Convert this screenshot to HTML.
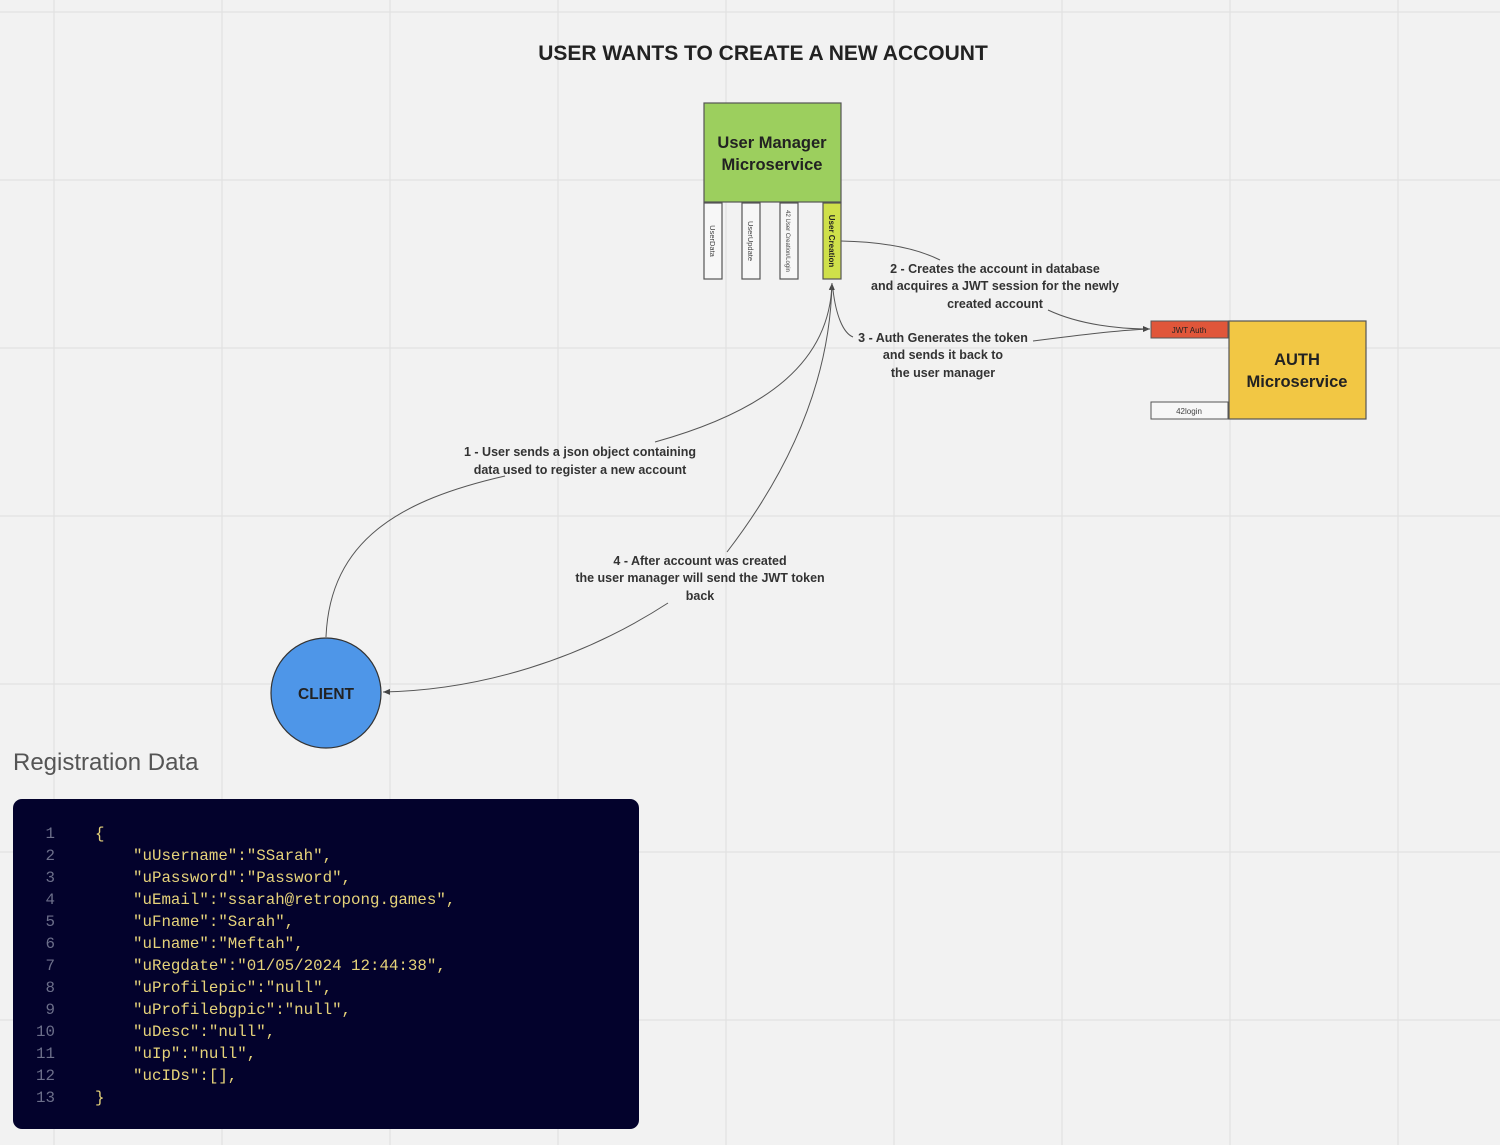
<!DOCTYPE html>
<html><head><meta charset="utf-8"><style>
html,body{margin:0;padding:0;background:#f2f2f2}
svg{display:block}
.t{font-family:"Liberation Sans",sans-serif;font-weight:bold;fill:#222}
.lb{font-family:"Liberation Sans",sans-serif;font-weight:bold;font-size:12.5px;fill:#333;text-anchor:middle}
.code{font-family:"Liberation Mono",monospace;font-size:15.8px;fill:#e6d37a;white-space:pre}
.num{font-family:"Liberation Mono",monospace;font-size:15.8px;fill:#6c6f8a;text-anchor:end}
</style></head><body>
<svg width="1500" height="1145" viewBox="0 0 1500 1145" xmlns="http://www.w3.org/2000/svg">
<defs><marker id="a" markerWidth="8" markerHeight="8" refX="7" refY="4" orient="auto" markerUnits="userSpaceOnUse"><path d="M0,1 L7,4 L0,7 z" fill="#444"/></marker></defs>
<rect width="1500" height="1145" fill="#f2f2f2"/>
<g stroke="#e1e1e1" stroke-width="1.2">
<line x1="54" y1="0" x2="54" y2="1145"/><line x1="222" y1="0" x2="222" y2="1145"/><line x1="390" y1="0" x2="390" y2="1145"/><line x1="558" y1="0" x2="558" y2="1145"/><line x1="726" y1="0" x2="726" y2="1145"/><line x1="894" y1="0" x2="894" y2="1145"/><line x1="1062" y1="0" x2="1062" y2="1145"/><line x1="1230" y1="0" x2="1230" y2="1145"/><line x1="1398" y1="0" x2="1398" y2="1145"/>
<line x1="0" y1="12" x2="1500" y2="12"/><line x1="0" y1="180" x2="1500" y2="180"/><line x1="0" y1="348" x2="1500" y2="348"/><line x1="0" y1="516" x2="1500" y2="516"/><line x1="0" y1="684" x2="1500" y2="684"/><line x1="0" y1="852" x2="1500" y2="852"/><line x1="0" y1="1020" x2="1500" y2="1020"/>
</g>
<text class="t" x="763" y="60" font-size="21" text-anchor="middle">USER WANTS TO CREATE A NEW ACCOUNT</text>

<rect x="704" y="103" width="137" height="99" fill="#9ccf5e" stroke="#555" stroke-width="1.2"/>
<text class="t" x="772" y="148" font-size="16.5" text-anchor="middle">User Manager</text>
<text class="t" x="772" y="170" font-size="16.5" text-anchor="middle">Microservice</text>
<g stroke="#555" stroke-width="1.2" fill="#f7f7f7">
<rect x="704" y="203" width="18" height="76"/><rect x="742" y="203" width="18" height="76"/><rect x="780" y="203" width="18" height="76"/>
<rect x="823" y="203" width="18" height="76" fill="#cfe04a"/></g>
<g font-family="Liberation Sans,sans-serif" font-size="7.5" fill="#444" text-anchor="middle">
<text transform="translate(710,241) rotate(90)">UserData</text>
<text transform="translate(748,241) rotate(90)">UserUpdate</text>
<text transform="translate(786,241) rotate(90)" font-size="6">42 User Creation/Login</text>
<text transform="translate(829,241) rotate(90)" font-weight="bold" font-size="8" fill="#222">User Creation</text>
</g>

<rect x="1229" y="321" width="137" height="98" fill="#f2c744" stroke="#555" stroke-width="1.2"/>
<text class="t" x="1297" y="365" font-size="16.5" text-anchor="middle">AUTH</text>
<text class="t" x="1297" y="387" font-size="16.5" text-anchor="middle">Microservice</text>
<rect x="1151" y="321" width="77" height="17" fill="#e0563a" stroke="#555" stroke-width="1"/>
<text x="1189" y="333" font-family="Liberation Sans,sans-serif" font-size="8" fill="#222" text-anchor="middle">JWT Auth</text>
<rect x="1151" y="402" width="77" height="17" fill="#f7f7f7" stroke="#555" stroke-width="1"/>
<text x="1189" y="414" font-family="Liberation Sans,sans-serif" font-size="8" fill="#444" text-anchor="middle">42login</text>

<circle cx="326" cy="693" r="55" fill="#4e96e8" stroke="#333" stroke-width="1.2"/>
<text class="t" x="326" y="699" font-size="15.5" text-anchor="middle">CLIENT</text>

<g fill="none" stroke="#555" stroke-width="1">
<path d="M326,637 C330,540 400,500 505,476"/>
<path d="M655,442 C770,410 830,360 832,283" marker-end="url(#a)"/>
<path d="M832,283 C830,380 790,470 727,552"/>
<path d="M668,603 C580,660 480,690 383,692" marker-end="url(#a)"/>
<path d="M841,241 C890,242 920,250 940,260"/>
<path d="M1048,310 C1080,325 1120,329 1150,329" marker-end="url(#a)"/>
<path d="M833,290 C836,315 843,333 853,337"/>
<path d="M1033,341 C1080,335 1120,330 1150,329"/>
</g>
<text class="lb" x="580" y="456">1 - User sends a json object containing</text>
<text class="lb" x="580" y="474">data used to register a new account</text>
<text class="lb" x="995" y="273">2 - Creates the account in database</text>
<text class="lb" x="995" y="290">and acquires a JWT session for the newly</text>
<text class="lb" x="995" y="308">created account</text>
<text class="lb" x="943" y="342">3 - Auth Generates the token</text>
<text class="lb" x="943" y="359">and sends it back to</text>
<text class="lb" x="943" y="377">the user manager</text>
<text class="lb" x="700" y="565">4 - After account was created</text>
<text class="lb" x="700" y="582">the user manager will send the JWT token</text>
<text class="lb" x="700" y="600">back</text>

<text x="13" y="770" font-family="Liberation Sans,sans-serif" font-size="24" fill="#555">Registration Data</text>
<rect x="13" y="799" width="626" height="330" rx="9" fill="#03022c"/>
<g>
<text class="num" x="55" y="838">1</text><text class="code" x="95" y="838">{</text>
<text class="num" x="55" y="860">2</text><text class="code" x="133" y="860">"uUsername":"SSarah",</text>
<text class="num" x="55" y="882">3</text><text class="code" x="133" y="882">"uPassword":"Password",</text>
<text class="num" x="55" y="904">4</text><text class="code" x="133" y="904">"uEmail":"ssarah@retropong.games",</text>
<text class="num" x="55" y="926">5</text><text class="code" x="133" y="926">"uFname":"Sarah",</text>
<text class="num" x="55" y="948">6</text><text class="code" x="133" y="948">"uLname":"Meftah",</text>
<text class="num" x="55" y="970">7</text><text class="code" x="133" y="970">"uRegdate":"01/05/2024 12:44:38",</text>
<text class="num" x="55" y="992">8</text><text class="code" x="133" y="992">"uProfilepic":"null",</text>
<text class="num" x="55" y="1014">9</text><text class="code" x="133" y="1014">"uProfilebgpic":"null",</text>
<text class="num" x="55" y="1036">10</text><text class="code" x="133" y="1036">"uDesc":"null",</text>
<text class="num" x="55" y="1058">11</text><text class="code" x="133" y="1058">"uIp":"null",</text>
<text class="num" x="55" y="1080">12</text><text class="code" x="133" y="1080">"ucIDs":[],</text>
<text class="num" x="55" y="1102">13</text><text class="code" x="95" y="1102">}</text>
</g>
</svg>
</body></html>
